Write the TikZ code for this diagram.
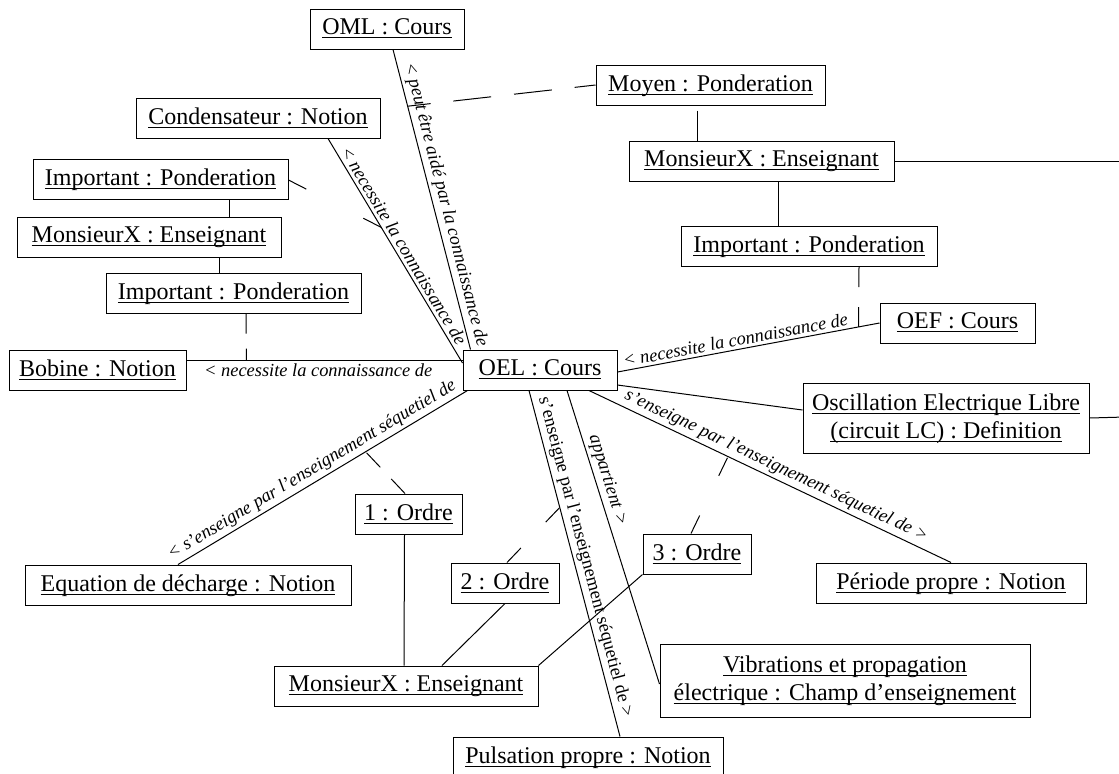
\documentclass[tikz,border=0pt]{standalone}
\usepackage{fontspec}
\setmainfont{Liberation Serif}
\usetikzlibrary{calc}
\newcommand{\boxfont}{\fontsize{12}{14}\selectfont}
\newcommand{\linkfont}{\fontsize{9.2}{11}\selectfont\itshape}
\newcommand{\objname}[1]{\underline{\raisebox{0pt}[\height][0pt]{#1}}}
\tikzset{
    obj/.style={draw, line width=0.5pt, minimum width=#1, minimum height=20pt, inner sep=1pt, font=\boxfont},
    link/.style={line width=0.5pt},
    assoc/.style={line width=0.5pt, dash pattern=on 10pt off #1},
    lbl/.style={font=\linkfont, sloped, inner sep=1.5pt}
}
\begin{document}
\begin{tikzpicture}[x=0.5pt, y=-0.5pt]
        \useasboundingbox (0,0) rectangle (1119,773);
        \clip (0,0) rectangle (1119,773);
        % objets
        \node[obj=77pt] (oml) at (387,29) {\objname{OML : Cours}};
        \node[obj=114.5pt] (moyen) at (710.5,85) {\objname{Moyen : Ponderation}};
        \node[obj=122pt] (cond) at (258,118) {\objname{Condensateur : Notion}};
        \node[obj=132.5pt] (ensR) at (761.5,161) {\objname{MonsieurX : Enseignant}};
        \node[obj=127.5pt] (impL1) at (160.5,179) {\objname{Important : Ponderation}};
        \node[obj=132pt] (ensL) at (149,237) {\objname{MonsieurX : Enseignant}};
        \node[obj=128pt] (impR) at (809,246.5) {\objname{Important : Ponderation}};
        \node[obj=127.5pt] (impL2) at (233.5,293) {\objname{Important : Ponderation}};
        \node[obj=77.5pt] (oef) at (957.5,323) {\objname{OEF : Cours}};
        \node[obj=88.5pt] (bob) at (97.5,370) {\objname{Bobine : Notion}};
        \node[obj=77pt] (oel) at (540,370) {\objname{OEL : Cours}};
        \node[obj=143pt, minimum height=35pt, align=center] (osc) at (946,418)
            {\objname{Oscillation Electrique Libre}\\\objname{(circuit LC) : Definition}};
        \node[obj=53.5pt] (ord1) at (408.5,514) {\objname{1 : Ordre}};
        \node[obj=54pt] (ord2) at (505,583) {\objname{2 : Ordre}};
        \node[obj=54pt] (ord3) at (697,554) {\objname{3 : Ordre}};
        \node[obj=163pt] (equ) at (188,585) {\objname{Equation de décharge : Notion}};
        \node[obj=135pt] (per) at (951,583) {\objname{Période propre : Notion}};
        \node[obj=132pt] (ensB) at (406,686) {\objname{MonsieurX : Enseignant}};
        \node[obj=185pt, minimum height=36.5pt, align=center] (vib) at (845,680.5)
            {\objname{Vibrations et propagation}\\\objname{électrique : Champ d’enseignement}};
        \node[obj=135pt] (puls) at (588,757) {\objname{Pulsation propre : Notion}};
        \coordinate (bordR1) at (1125,161);
        \coordinate (bordR2) at (1125,417);
        % liens de OEL
        \draw[link] ($(oml.south)+(6,0)$) -- coordinate[pos=0.189] (omlMid)
            node[lbl, above, pos=0.527] {< peut être aidé par la connaissance de} ($(oel.north west)+(8,0)$);
        \draw[link] ($(cond.south)+(70,0)$) -- coordinate[pos=0.396] (condMid)
            node[lbl, above, pos=0.5] {< necessite la connaissance de} ($(oel.west)+(0,-7)$);
        \draw[link] ($(bob.east)+(0,-10)$) -- coordinate[pos=0.217] (bobMid)
            node[lbl, below, pos=0.477] {< necessite la connaissance de} ($(oel.west)+(0,-10)$);
        \draw[link] ($(equ.north)+(-10,0)$) -- coordinate[pos=0.648] (equMid)
            node[lbl, above, pos=0.484] {< s’enseigne par l’enseignement séquetiel de} ($(oel.south west)+(5,0)$);
        \draw[link] ($(oel.east)+(0,2)$) -- coordinate[pos=0.92] (oefMid)
            node[lbl, above, pos=0.457] {< necessite la connaissance de} (oef.west);
        \draw[link] ($(oel.east)+(0,15)$) -- ($(osc.west)+(0,-8)$);
        \draw[link] ($(oel.south)+(49,0)$) -- coordinate[pos=0.384] (perMid)
            node[lbl, above, pos=0.503] {s’enseigne par l’enseignement séquetiel de >} (per.north);
        \draw[link] ($(oel.south)+(-11,0)$) -- coordinate[pos=0.338] (pulsMid)
            node[lbl, above, pos=0.49, font=\linkfont\upshape] {s'enseigne par l'enseignement séquetiel de >} ($(puls.north)+(32,0)$);
        \draw[link] ($(oel.south)+(27,0)$) -- node[lbl, above, pos=0.317] {appartient >} ($(vib.west)+(0,3.5)$);
        % enseignants et ordres
        \draw[link] ($(ord1.south)+(-4,0)$) -- ($(ensB.north)+(-2,0)$);
        \draw[link] (ord2.south) -- ($(ensB.north)+(36,0)$);
        \draw[link] (ord3.south west) -- (ensB.north east);
        \draw[link] ($(impL1.south)+(68.5,0)$) -- ($(ensL.north)+(80,0)$);
        \draw[link] ($(ensL.south)+(70,0)$) -- ($(impL2.north)+(-14.5,0)$);
        \draw[link] ($(moyen.south)+(-13.5,5)$) -- ($(ensR.north)+(-64.5,0)$);
        \draw[link] ($(ensR.south)+(16.5,0)$) -- ($(impR.north)+(-31,0)$);
        \draw[link] (ensR.east) -- (bordR1);
        \draw[link] (osc.east) -- (bordR2);
        % classes d'association
        \draw[assoc=32pt] ($(impL1.east)+(0,1)$) -- (condMid);
        \draw[assoc=7.5pt] ($(impL2.south)+(12.5,0)$) -- (bobMid);
        \draw[assoc=10pt] ($(impR.south)+(50,0)$) -- (oefMid);
        \draw[link, dash pattern=on 19pt off 11.5pt, dash phase=8.5pt] (moyen.west) -- (omlMid);
        \draw[assoc=8pt] ($(ord1.north)+(-3.5,0)$) -- (equMid);
        \draw[assoc=18pt] ($(ord2.north)+(2,0)$) -- (pulsMid);
        \draw[assoc=22pt] ($(ord3.north)+(-6,0)$) -- (perMid);
\end{tikzpicture}
\end{document}
